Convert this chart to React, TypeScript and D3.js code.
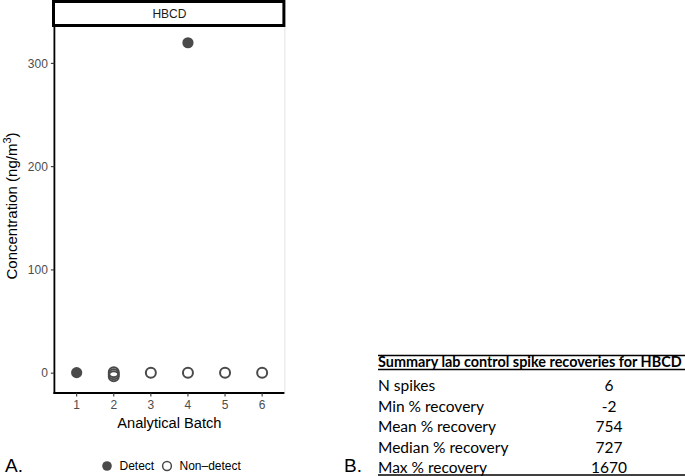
import React from "react";
import * as d3 from "d3";

const batches = ["1", "2", "3", "4", "5", "6"];
const detectBatch = ["1", "4"];
const detectValue = [0.5, 320];
const nonDetectBatch = ["2", "2", "2", "3", "4", "5", "6"];
const nonDetectValue = [1, -1, -3, 0.5, 0.5, 0.5, 0.5];
const yTicks = [0, 100, 200, 300];
const tableLabels = ["N spikes", "Min % recovery", "Mean % recovery", "Median % recovery", "Max % recovery"];
const tableValues = ["6", "-2", "754", "727", "1670"];

const W = 685;
const H = 476;
const left = 54.4;
const right = 284.4;
const top = 26;
const bottom = 393;
const ink = "#4a4a4a";
const axisFont = "'Liberation Sans', Arial, Helvetica, sans-serif";
const tableFont = "Lato, 'Open Sans', sans-serif";

export default function App() {
  const x = d3.scalePoint<string>().domain(batches).range([left, right]).padding(0.6);
  const yMin = -19.2;
  const yMax = 336.2;
  const y = d3.scaleLinear().domain([yMin, yMax]).range([bottom, top]);

  const detect = detectBatch.map((b, i) => ({ b, v: detectValue[i] }));
  const nonDetect = nonDetectBatch.map((b, i) => ({ b, v: nonDetectValue[i] }));

  const rowY = d3.scaleLinear().domain([0, tableLabels.length - 1]).range([386, 468]);

  return (
    <div style={{ position: "absolute", left: 0, top: 0 }}>
      <svg width={W} height={H} style={{ display: "block" }}>
        <rect x={0} y={0} width={W} height={H} fill="#fff" />
        {/* strip */}
        <rect x={53.5} y={1.5} width={right - 53.5 - 0.5} height={24} fill="#fff" stroke="#000" strokeWidth={3} />
        <text x={(left + right) / 2} y={18} textAnchor="middle" fontFamily={axisFont} fontSize={12} fill="#1a1a1a">HBCD</text>
        {/* right faint border */}
        <line x1={right + 0.5} x2={right + 0.5} y1={27} y2={bottom} stroke="#e2e2e2" strokeWidth={1} />
        {/* axes */}
        <line x1={left} x2={left} y1={top} y2={bottom + 0.9} stroke="#000" strokeWidth={1.8} />
        <line x1={left - 0.9} x2={right} y1={bottom} y2={bottom} stroke="#000" strokeWidth={1.8} />
        {yTicks.map((t) => (
          <g key={t}>
            <line x1={left - 3.5} x2={left} y1={y(t)} y2={y(t)} stroke="#333" strokeWidth={1.1} />
            <text x={left - 6.5} y={y(t)} dy="0.36em" textAnchor="end" fontFamily={axisFont} fontSize={12} fill="#4d4d4d">{t}</text>
          </g>
        ))}
        {batches.map((b) => (
          <g key={b}>
            <line x1={x(b)} x2={x(b)} y1={bottom} y2={bottom + 3.5} stroke="#333" strokeWidth={1.1} />
            <text x={x(b)} y={bottom + 15.5} textAnchor="middle" fontFamily={axisFont} fontSize={12} fill="#4d4d4d">{b}</text>
          </g>
        ))}
        <text x={(left + right) / 2} y={428} textAnchor="middle" fontFamily={axisFont} fontSize={14.67} fill="#000">Analytical Batch</text>
        <text transform={`translate(17,${206}) rotate(-90)`} textAnchor="middle" fontFamily={axisFont} fontSize={15} fill="#000">
          Concentration (ng/m<tspan dy="-6" fontSize={11}>3</tspan><tspan dy="6">)</tspan>
        </text>
        {/* points */}
        {nonDetect.map((d, i) => (
          <circle key={"n" + i} cx={x(d.b)} cy={y(d.v)} r={5} fill="none" stroke={ink} strokeWidth={2} />
        ))}
        {detect.map((d, i) => (
          <circle key={"d" + i} cx={x(d.b)} cy={y(d.v)} r={5.6} fill={ink} />
        ))}
        {/* legend */}
        <circle cx={107} cy={466} r={4.8} fill={ink} />
        <text x={119.5} y={466} dy="0.36em" fontFamily={axisFont} fontSize={12} fill="#000">Detect</text>
        <circle cx={167} cy={466} r={4.4} fill="none" stroke={ink} strokeWidth={1.5} />
        <text x={179.5} y={466} dy="0.36em" fontFamily={axisFont} fontSize={12} fill="#000">Non–detect</text>
        {/* panel labels */}
        <text x={5} y={472} fontFamily={axisFont} fontSize={19} fill="#000">A.</text>
        <text x={344} y={472} fontFamily={axisFont} fontSize={19} fill="#000">B.</text>
        {/* table */}
        <line x1={378} x2={W} y1={355.5} y2={355.5} stroke="#000" strokeWidth={1.5} />
        <text x={378} y={367} fontFamily={tableFont} fontSize={14.4} fontWeight="bold" fill="#000">Summary lab control spike recoveries for HBCD</text>
        <line x1={378} x2={W} y1={369.5} y2={369.5} stroke="#000" strokeWidth={1.5} />
        {tableLabels.map((l, i) => (
          <g key={l}>
            <text x={378} y={rowY(i)} dy="0.35em" fontFamily={tableFont} fontSize={15.5} fill="#000">{l}</text>
            <text x={609} y={rowY(i)} dy="0.35em" textAnchor="middle" fontFamily={tableFont} fontSize={15.5} fill="#000">{tableValues[i]}</text>
          </g>
        ))}
        <line x1={378} x2={W} y1={475} y2={475} stroke="#000" strokeWidth={1.5} />
      </svg>
    </div>
  );
}
